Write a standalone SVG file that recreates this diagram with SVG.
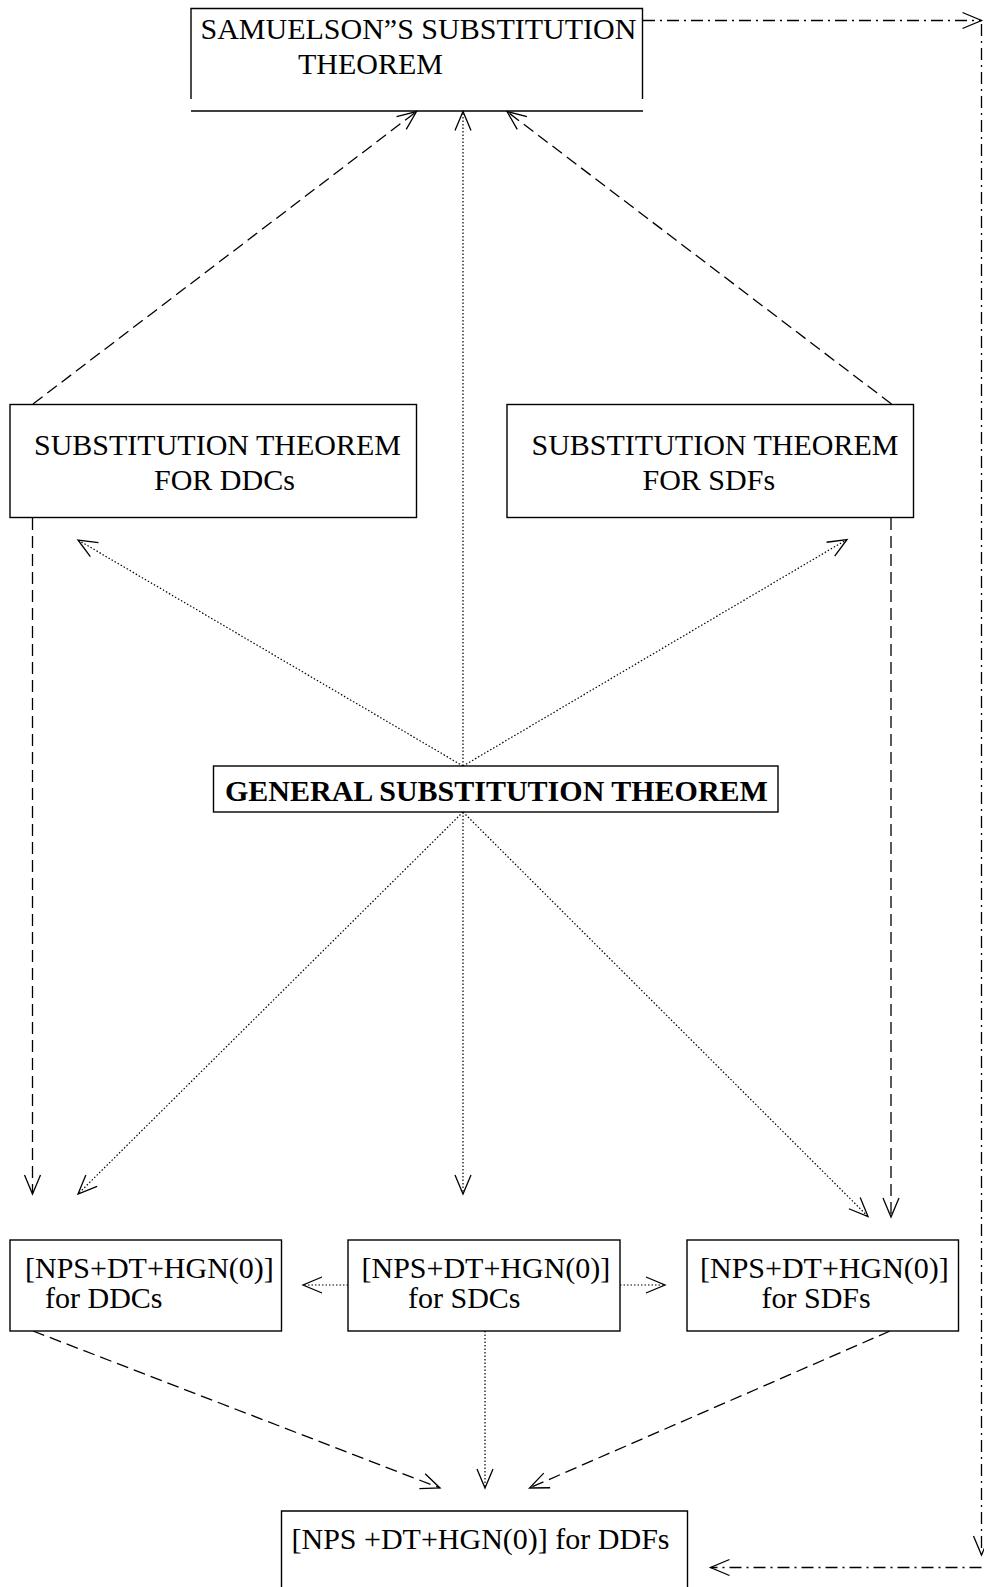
<svg xmlns="http://www.w3.org/2000/svg" width="984" height="1587" viewBox="0 0 984 1587">
<style>
.box{fill:#fff;stroke:#000;stroke-width:1.4}
.t{font-family:"Liberation Serif","Times New Roman",serif;font-size:30px;fill:#000}
.b{font-weight:bold}
.dash{fill:none;stroke:#000;stroke-width:1.3;stroke-dasharray:12 6}
.dot{fill:none;stroke:#000;stroke-width:1.2;stroke-dasharray:1.5 2}
.dd{fill:none;stroke:#000;stroke-width:1.3;stroke-dasharray:12 5 2 5}
</style>
<defs>
<marker id="ah" markerUnits="userSpaceOnUse" viewBox="-22 -11 24 22" markerWidth="24" markerHeight="22" refX="0" refY="0" orient="auto" overflow="visible">
<path d="M-19,-8 L0,0 L-19,8" fill="none" stroke="#000" stroke-width="1.3"/>
</marker>
</defs>
<rect width="984" height="1587" fill="#fff"/>

<g id="connectors">
<line class="dash" x1="33" y1="404" x2="416.5" y2="111.5" marker-end="url(#ah)"/>
<line class="dot" x1="463" y1="766" x2="463" y2="111.5" marker-end="url(#ah)"/>
<line class="dash" x1="891.5" y1="404" x2="507" y2="111.5" marker-end="url(#ah)"/>
<line class="dot" x1="463" y1="766" x2="78" y2="540" marker-end="url(#ah)"/>
<line class="dot" x1="463" y1="766" x2="847" y2="539.5" marker-end="url(#ah)"/>
<line class="dot" x1="463" y1="812" x2="78" y2="1194" marker-end="url(#ah)"/>
<line class="dot" x1="463" y1="812" x2="463" y2="1194" marker-end="url(#ah)"/>
<line class="dot" x1="463" y1="812" x2="868" y2="1216.5" marker-end="url(#ah)"/>
<line class="dash" x1="32.5" y1="518" x2="32.5" y2="1194" marker-end="url(#ah)"/>
<line class="dash" x1="891" y1="518" x2="891" y2="1217" marker-end="url(#ah)"/>
<line class="dot" x1="348" y1="1285" x2="303" y2="1285" marker-end="url(#ah)"/>
<line class="dot" x1="620" y1="1285" x2="665" y2="1285" marker-end="url(#ah)"/>
<line class="dash" x1="33" y1="1331" x2="440" y2="1488" marker-end="url(#ah)"/>
<line class="dot" x1="485" y1="1331" x2="485" y2="1488" marker-end="url(#ah)"/>
<line class="dash" x1="890" y1="1331" x2="529.5" y2="1488" marker-end="url(#ah)"/>
<line class="dd" x1="643" y1="20.5" x2="981.5" y2="20.5" marker-end="url(#ah)"/>
<line class="dd" x1="981.5" y1="24" x2="981.5" y2="1555" marker-end="url(#ah)"/>
<line class="dd" x1="981.5" y1="1567.5" x2="710.5" y2="1567.5" marker-end="url(#ah)"/>
</g>

<g id="samuelson">
<path d="M191,99 V8.5 H642.5 V99" fill="#fff" stroke="#000" stroke-width="1.4"/>
<line x1="191" y1="111" x2="643" y2="111" stroke="#000" stroke-width="1.4"/>
<text class="t" x="200.5" y="39">SAMUELSON”S SUBSTITUTION</text>
<text class="t" x="298" y="74">THEOREM</text>
</g>

<g id="st-ddcs">
<rect class="box" x="10" y="404.5" width="406.5" height="113"/>
<text class="t" x="34" y="455">SUBSTITUTION THEOREM</text>
<text class="t" x="154" y="490">FOR DDCs</text>
</g>

<g id="st-sdfs">
<rect class="box" x="507" y="404.5" width="406.5" height="113"/>
<text class="t" x="531.5" y="455">SUBSTITUTION THEOREM</text>
<text class="t" x="642.5" y="490">FOR SDFs</text>
</g>

<g id="gst">
<rect class="box" x="213.5" y="766" width="564.5" height="46"/>
<text class="t b" x="225" y="801">GENERAL SUBSTITUTION THEOREM</text>
</g>

<g id="nps-ddcs">
<rect class="box" x="10" y="1240" width="271.5" height="91"/>
<text class="t" x="25" y="1278">[NPS+DT+HGN(0)]</text>
<text class="t" x="45" y="1308">for DDCs</text>
</g>

<g id="nps-sdcs">
<rect class="box" x="348" y="1240" width="272" height="91"/>
<text class="t" x="361.5" y="1278">[NPS+DT+HGN(0)]</text>
<text class="t" x="408" y="1308">for SDCs</text>
</g>

<g id="nps-sdfs">
<rect class="box" x="687" y="1240" width="271.5" height="91"/>
<text class="t" x="700" y="1278">[NPS+DT+HGN(0)]</text>
<text class="t" x="761.5" y="1308">for SDFs</text>
</g>

<g id="nps-ddfs">
<path d="M281.5,1587 V1511 H687.5 V1587" fill="#fff" stroke="#000" stroke-width="1.4"/>
<text class="t" x="291.5" y="1549">[NPS +DT+HGN(0)] for DDFs</text>
</g>
</svg>
